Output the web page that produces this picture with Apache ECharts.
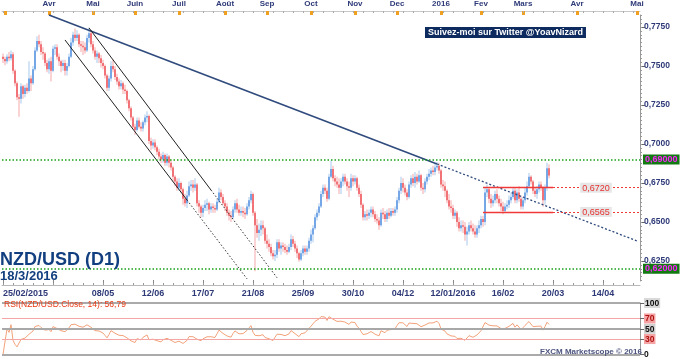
<!DOCTYPE html>
<html><head><meta charset="utf-8">
<script src="https://cdn.jsdelivr.net/npm/echarts@6.0.0/dist/echarts.min.js"></script>
<style>html,body{margin:0;padding:0;background:#fff}#c{width:680px;height:359px}</style>
</head><body><div id="c"></div>
<script>
// ---------- data ----------
const firstTradingDay = '2015-02-27';
const lastTradingDay = '2016-03-18';
const axisEndDay = '2016-05-02';
const holidays = ['2015-12-25', '2016-01-01'];
const firstOpen = 7560; // pips (x 1e-4)
const closes = [7545,7530,7560,7550,7575,7470,7390,7300,7290,7370,7320,7360,7340,7420,7390,7480,7600,7660,7640,7590,
7580,7520,7480,7530,7470,7610,7620,7560,7530,7500,7520,7470,7500,7560,7650,7700,7680,7700,7640,7630,
7620,7600,7680,7710,7640,7600,7560,7580,7550,7520,7500,7440,7360,7420,7500,7480,7430,7400,7370,7390,
7350,7340,7280,7230,7170,7110,7090,7150,7110,7100,7140,7170,7180,7020,6990,7010,6980,6950,6920,6900,
6930,6880,6920,6880,6850,6790,6760,6720,6750,6710,6650,6620,6670,6730,6740,6720,6740,6620,6600,6560,
6590,6610,6620,6580,6600,6590,6580,6630,6690,6660,6620,6600,6560,6540,6530,6580,6620,6580,6560,6570,
6560,6550,6600,6640,6680,6560,6480,6430,6450,6480,6460,6380,6360,6340,6300,6280,6290,6370,6330,6350,
6340,6320,6310,6340,6390,6360,6330,6300,6260,6300,6330,6310,6330,6380,6420,6460,6530,6560,6600,6680,
6720,6700,6650,6790,6840,6780,6760,6740,6720,6760,6790,6760,6730,6720,6780,6760,6780,6720,6680,6610,
6530,6550,6540,6560,6580,6550,6520,6510,6480,6560,6550,6520,6560,6540,6570,6560,6580,6640,6700,6750,
6720,6690,6660,6740,6780,6750,6790,6760,6800,6720,6710,6760,6790,6810,6830,6820,6850,6860,6830,6740,
6730,6700,6640,6600,6590,6540,6560,6500,6460,6480,6470,6420,6440,6480,6460,6440,6420,6460,6480,6520,
6500,6690,6710,6650,6620,6640,6680,6650,6620,6600,6570,6600,6610,6640,6660,6700,6640,6690,6650,6600,
6640,6690,6730,6790,6760,6700,6680,6710,6740,6720,6640,6720,6845,6799];
const highs = [7580,7560,7575,7590,7600,7590,7480,7400,7320,7390,7380,7380,7390,7530,7440,7500,7620,7690,7700,7660,
7620,7590,7540,7550,7560,7630,7640,7640,7580,7540,7540,7540,7520,7580,7680,7720,7740,7730,7710,7660,
7660,7650,7700,7745,7730,7660,7620,7600,7590,7570,7540,7510,7450,7440,7530,7540,7500,7450,7420,7410,
7400,7380,7350,7290,7240,7180,7130,7170,7170,7140,7150,7190,7210,7190,7040,7030,7030,6990,6970,6940,
6950,6940,6940,6930,6900,6860,6800,6780,6780,6760,6720,6680,6700,6760,6770,6770,6780,6750,6640,6610,
6610,6640,6650,6630,6620,6620,6610,6650,6720,6710,6680,6640,6620,6580,6570,6600,6640,6650,6610,6600,
6600,6590,6620,6660,6700,6690,6570,6520,6490,6510,6510,6470,6420,6390,6360,6320,6320,6390,6390,6370,
6370,6360,6350,6360,6420,6410,6380,6350,6310,6320,6350,6350,6350,6400,6450,6480,6550,6580,6620,6700,
6740,6740,6720,6810,6895,6860,6800,6790,6780,6780,6810,6810,6780,6760,6810,6800,6800,6790,6740,6700,
6620,6570,6580,6580,6600,6600,6570,6550,6530,6580,6590,6570,6580,6590,6590,6590,6600,6660,6720,6790,
6780,6740,6710,6760,6800,6810,6820,6810,6830,6810,6750,6780,6810,6840,6850,6860,6880,6885,6880,6840,
6770,6760,6710,6680,6640,6610,6580,6570,6530,6510,6510,6500,6470,6500,6510,6490,6480,6480,6510,6540,
6540,6720,6740,6720,6680,6670,6700,6710,6670,6650,6630,6620,6640,6670,6690,6720,6720,6710,6730,6670,
6660,6720,6760,6815,6800,6770,6720,6730,6760,6760,6730,6740,6880,6870];
const lows = [7520,7505,7515,7530,7535,7450,7370,7280,7175,7260,7290,7300,7320,7330,7340,7380,7470,7590,7620,7570,
7540,7500,7460,7450,7400,7460,7570,7540,7500,7460,7470,7440,7440,7490,7550,7630,7660,7660,7620,7590,
7570,7580,7590,7650,7620,7580,7540,7520,7520,7490,7480,7420,7340,7340,7400,7460,7410,7380,7350,7350,
7320,7320,7260,7210,7150,7100,7060,7080,7100,7080,7080,7120,7140,7000,6960,6970,6960,6930,6900,6880,
6880,6860,6860,6850,6830,6760,6730,6700,6700,6690,6610,6600,6590,6660,6700,6690,6700,6600,6560,6530,
6530,6570,6570,6550,6560,6560,6560,6570,6620,6640,6610,6570,6540,6510,6500,6520,6560,6560,6540,6540,
6530,6520,6540,6580,6620,6540,6185,6400,6380,6410,6420,6360,6330,6310,6280,6260,6250,6270,6310,6290,
6310,6300,6290,6300,6320,6340,6310,6270,6245,6250,6280,6290,6290,6310,6360,6370,6450,6510,6540,6590,
6660,6680,6630,6640,6780,6760,6730,6720,6680,6680,6730,6740,6700,6660,6700,6730,6740,6700,6660,6590,
6510,6510,6510,6520,6530,6530,6500,6490,6450,6470,6520,6500,6500,6520,6530,6540,6540,6560,6620,6680,
6690,6670,6640,6650,6720,6730,6720,6740,6750,6700,6680,6690,6740,6770,6790,6800,6800,6830,6810,6720,
6700,6660,6620,6580,6560,6520,6520,6470,6440,6440,6430,6380,6350,6420,6440,6420,6400,6400,6430,6460,
6470,6480,6660,6620,6590,6600,6620,6620,6600,6570,6550,6560,6580,6590,6620,6650,6620,6620,6630,6580,
6580,6620,6670,6720,6740,6680,6660,6650,6690,6700,6600,6610,6700,6780];
const bottomTickLabels = ['25/02/2015','','08/05','12/06','17/07','21/08','25/09','30/10','04/12','12/01/2016','16/02','20/03','14/04'];
const monthSlots = [1,23,45,66,88,111,132,154,176,197,219,239,260,287,317];
const monthNames = ['','Avr','Mai','Juin','Juil','Août','Sep','Oct','Nov','Dec','2016','Fev','Mars','Avr','Mai'];
const priceTicks = [0.625,0.65,0.675,0.70,0.725,0.75,0.775];
const resistance = 0.69, support = 0.62;
const rangeTop = 0.6720, rangeBottom = 0.6565;
const lastPrice = 0.67986;
const rsiLevels = [0,30,50,70,100];
const rsiLabel = 'RSI(NZD/USD.Close, 14): 56,79';
// trend lines as [slot, price] anchors
const mainTrend = [[23,0.7827],[217,0.6872],[317,0.6379]];
const channelUpper = [[43,0.7744],[104,0.6705],[137,0.6143]];
const channelLower = [[31,0.7667],[92,0.6641],[122,0.6136]];
const rangeStart = 240, rangeSolidEnd = 275;

// ---------- categories ----------
function iso(d){return d.toISOString().slice(0,10);}
const categories = [];
{
  let d = new Date(firstTradingDay+'T00:00:00Z');
  const last = new Date(lastTradingDay+'T00:00:00Z'), end = new Date(axisEndDay+'T00:00:00Z');
  while (d <= last) { const wd = d.getUTCDay(), s = iso(d); if (wd!==0 && wd!==6 && holidays.indexOf(s)<0) categories.push(s); d = new Date(d.getTime()+86400000); }
  while (d <= end) { categories.push(iso(d)); d = new Date(d.getTime()+86400000); }
}
const N = closes.length;
const P = v => v/10000;
const opens = closes.map((c,i)=> i===0 ? firstOpen : closes[i-1]);
const bodyData = [], rangeData = [];
for (let i=0;i<N;i++){
  const o=P(opens[i]), c=P(closes[i]), l=P(lows[i]), h=P(highs[i]);
  bodyData.push([o,c,Math.min(o,c),Math.max(o,c)]);
  rangeData.push(c>=o ? [l,h,l,h] : [h,l,l,h]);
}
// RSI(14), Wilder
const rsi = [];
{ let ag=0, al=0;
  for (let i=0;i<N;i++){
    const ch = closes[i] - (i===0?firstOpen:closes[i-1]);
    const g = Math.max(ch,0), lo = Math.max(-ch,0), n=i+1;
    if (n<=14){ ag=(ag*(n-1)+g)/n; al=(al*(n-1)+lo)/n; } else { ag=(ag*13+g)/14; al=(al*13+lo)/14; }
    rsi.push(al===0?100:+(100-100/(1+ag/al)).toFixed(2));
  }
}
const bottomMap = {}; bottomTickLabels.forEach((t,k)=>{bottomMap[k*25]=t;});
const monthMap = {}; monthSlots.forEach((s,k)=>{monthMap[s]=monthNames[k];});
const minorPrice = []; for (let k=0;k<=80;k++){ minorPrice.push(+(0.6125+k*0.0025).toFixed(4)); }

const FONT = 'Liberation Sans, Arial, sans-serif';
const NAVY = '#2e3a78';
const comma = v => v.toString().replace('.',',');

function seg(a,b,style){ return [{coord:a, lineStyle:style},{coord:b}]; }
const navySolid = {color:'#2f4a7c', width:1.6, type:'solid'};
const navyDot = {color:'#2f4a7c', width:1.3, type:[2,2]};
const blackSolid = {color:'#222', width:1, type:'solid'};
const blackDot = {color:'#333', width:1, type:[1.5,2]};
const redSolid = {color:'#f03a3a', width:1.3, type:'solid'};
const redDot = {color:'#f03a3a', width:1, type:[2,2]};
const greenDot = {color:'#18a018', width:1.6, type:[1.5,2]};

const endBox = (txt,fg,bg) => ({show:true, position:'end', distance:3, formatter:txt, color:fg, backgroundColor:bg, padding:[1,2,0,2], fontSize:9, fontWeight:'bold', fontFamily:FONT});
const midBox = (txt) => ({show:true, position:'middle', formatter:txt, color:'#e83030', backgroundColor:'#e6e6e6', padding:[1,2,0,2], fontSize:9, fontFamily:FONT, distance:-5});

const option = {
  animation:false,
  backgroundColor:'#fff',
  textStyle:{fontFamily:FONT},
  title:[
    {text:'Suivez-moi sur Twitter @YoavNizard', left:425, top:27, padding:[1,3,1,3], backgroundColor:'#0d2b5e', textStyle:{color:'#fff', fontSize:9, fontWeight:'bold', fontFamily:FONT}},
    {text:'NZD/USD (D1)', left:0, top:251, padding:0, textStyle:{color:'#123f7f', fontSize:18, fontWeight:'bold', fontFamily:FONT}},
    {text:'18/3/2016', left:0, top:270, padding:0, textStyle:{color:'#123f7f', fontSize:13, fontWeight:'bold', fontFamily:FONT}},
    {text:rsiLabel, left:4, top:300, padding:0, textStyle:{color:'#e83a14', fontSize:8.5, fontWeight:'normal', fontFamily:FONT}},
    {text:'FXCM Marketscope © 2016', left:540, top:348, padding:0, textStyle:{color:'#4d5580', fontSize:8, fontWeight:'bold', fontFamily:FONT}}
  ],
  grid:[
    {left:2, right:40, top:15, height:266},
    {left:2, right:40, top:303, height:53}
  ],
  xAxis:[
    {type:'category', gridIndex:0, data:categories, position:'bottom', offset:4, boundaryGap:true,
     axisLine:{show:true, lineStyle:{color:'#b8b8b8', width:1}},
     axisTick:{show:true, inside:true, length:5, alignWithLabel:true, interval:(i)=> i%25===0, lineStyle:{color:'#888'}},
     axisLabel:{show:true, interval:(i)=> bottomMap[i]!==undefined, formatter:(v,i)=>bottomMap[i]||'', color:NAVY, fontSize:9, fontWeight:'bold', margin:4, alignMinLabel:'left'},
     splitLine:{show:false}},
    {type:'category', gridIndex:0, data:categories, position:'bottom', offset:4, boundaryGap:true,
     axisLine:{show:false}, axisLabel:{show:false}, splitLine:{show:false},
     axisTick:{show:true, inside:true, length:2, alignWithLabel:true, interval:(i)=> i%5===0, lineStyle:{color:'#999'}}},
    {type:'category', gridIndex:0, data:categories, position:'top', offset:4, boundaryGap:true,
     axisLine:{show:true, lineStyle:{color:'#c8c8c8', width:1}},
     axisTick:{show:true, inside:true, length:4, alignWithLabel:true, interval:(i)=> monthMap[i]!==undefined, lineStyle:{color:'#f0a020', width:3}},
     axisLabel:{show:true, interval:(i)=> monthMap[i]!==undefined && monthMap[i]!=='', formatter:(v,i)=>monthMap[i]||'', color:NAVY, fontSize:8, fontWeight:'bold', margin:3},
     splitLine:{show:false}},
    {type:'category', gridIndex:0, data:categories, position:'top', offset:4, boundaryGap:true,
     axisLine:{show:false}, axisLabel:{show:false}, splitLine:{show:false},
     axisTick:{show:true, inside:true, length:2, alignWithLabel:true, interval:(i)=> i%5===0, lineStyle:{color:'#aaa'}}},
    {type:'category', gridIndex:1, data:categories, show:false, boundaryGap:true}
  ],
  yAxis:[
    {type:'value', gridIndex:0, position:'right', min:0.6122, max:0.7827, scale:true,
     axisLine:{show:true, lineStyle:{color:'#999'}},
     axisTick:{show:true, length:5, customValues:priceTicks, lineStyle:{color:'#666'}},
     axisLabel:{show:true, customValues:priceTicks, formatter:v=>comma(v.toFixed(4)), color:NAVY, fontSize:8.5, fontWeight:'bold', margin:4},
     splitLine:{show:false}},
    {type:'value', gridIndex:0, position:'right', min:0.6122, max:0.7827, scale:true,
     axisLine:{show:false}, axisLabel:{show:false}, splitLine:{show:false},
     axisTick:{show:true, length:2, customValues:minorPrice, lineStyle:{color:'#999'}}},
    {type:'value', gridIndex:1, position:'right', min:0, max:100,
     axisLine:{show:true, lineStyle:{color:'#999'}},
     axisTick:{show:true, length:4, customValues:rsiLevels, lineStyle:{color:'#666'}},
     axisLabel:{show:true, customValues:rsiLevels, margin:4, fontSize:8.5, fontWeight:'bold',
       formatter:v=>'{r'+v+'|'+v+'}',
       rich:{
         r100:{backgroundColor:'#d9d9d9', color:'#111', padding:[1,1,0,1], fontSize:8.5, fontWeight:'bold'},
         r70:{backgroundColor:'#f4a4a4', color:'#b01010', padding:[1,1,0,1], fontSize:8.5, fontWeight:'bold'},
         r50:{backgroundColor:'#d0d0d0', color:'#111', padding:[1,1,0,1], fontSize:8.5, fontWeight:'bold'},
         r30:{backgroundColor:'#f4a4a4', color:'#b01010', padding:[1,1,0,1], fontSize:8.5, fontWeight:'bold'},
         r0:{color:'#111', fontSize:8.5, fontWeight:'bold'}
       }},
     splitLine:{show:false}}
  ],
  series:[
    {type:'candlestick', name:'range', xAxisIndex:0, yAxisIndex:0, data:rangeData, barWidth:2, silent:true,
     itemStyle:{color:'#a9c9ef', color0:'#f5a8aa', borderColor:'#a9c9ef', borderColor0:'#f5a8aa', borderWidth:0}},
    {type:'candlestick', name:'NZD/USD', xAxisIndex:0, yAxisIndex:0, data:bodyData, barWidth:2, silent:true,
     itemStyle:{color:'#1668d4', color0:'#e8121a', borderColor:'#1668d4', borderColor0:'#e8121a', borderWidth:0},
     markLine:{silent:true, symbol:['none','none'], animation:false, label:{show:false},
      data:[
        seg(mainTrend[0],mainTrend[1],navySolid),
        seg(mainTrend[1],mainTrend[2],navyDot),
        seg(channelUpper[0],channelUpper[1],blackSolid),
        seg(channelUpper[1],channelUpper[2],blackDot),
        seg(channelLower[0],channelLower[1],blackSolid),
        seg(channelLower[1],channelLower[2],blackDot),
        {yAxis:resistance, lineStyle:greenDot, label:endBox('0,69000','#ff20ff','#137a13')},
        {yAxis:support, lineStyle:greenDot, label:endBox('0,62000','#ff20ff','#137a13')},
        {yAxis:lastPrice, lineStyle:{width:0, opacity:0}, label:endBox(comma(lastPrice.toFixed(5)),'#0a1f50','#7fd3ff')},
        seg([rangeStart,rangeTop],[rangeSolidEnd,rangeTop],redSolid),
        [{coord:[rangeSolidEnd,rangeTop], lineStyle:redDot, label:midBox(comma(rangeTop.toFixed(4)))},{coord:[categories.length-1,rangeTop]}],
        seg([rangeStart,rangeBottom],[rangeSolidEnd,rangeBottom],redSolid),
        [{coord:[rangeSolidEnd,rangeBottom], lineStyle:redDot, label:midBox(comma(rangeBottom.toFixed(4)))},{coord:[categories.length-1,rangeBottom]}]
      ]}},
    {type:'line', name:'RSI', xAxisIndex:4, yAxisIndex:2, data:rsi, symbol:'none', silent:true,
     lineStyle:{color:'#f2a27a', width:1},
     markLine:{silent:true, symbol:['none','none'], label:{show:false},
      data:[
        {yAxis:100, lineStyle:{color:'#aaaaaa', width:2, type:'solid'}},
        {yAxis:70, lineStyle:{color:'#f4a6a6', width:1, type:'solid'}},
        {yAxis:50, lineStyle:{color:'#a8a8a8', width:2, type:'solid'}},
        {yAxis:30, lineStyle:{color:'#f4a6a6', width:1, type:'solid'}},
        {yAxis:0, lineStyle:{color:'#aaaaaa', width:2, type:'solid'}}
      ]}}
  ]
};
echarts.init(document.getElementById('c'), null, {renderer:'canvas'}).setOption(option);
</script></body></html>
